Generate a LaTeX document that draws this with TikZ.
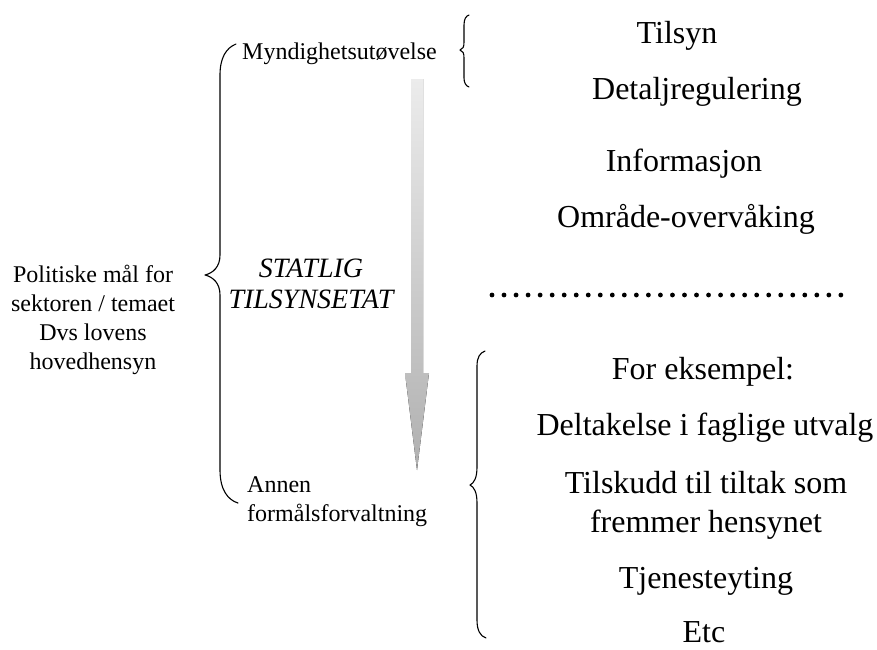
\documentclass[tikz,border=0pt]{standalone}
\usepackage{fontspec}
\setmainfont{Liberation Serif}
\begin{document}
\begin{tikzpicture}[x=1pt,y=-1pt,
  txtS/.style={font=\fontsize{24}{28.8}\selectfont, inner sep=0pt},
  txtL/.style={font=\fontsize{32}{38.8}\selectfont, inner sep=0pt},
  txtI/.style={font=\fontsize{28}{31}\selectfont\itshape, inner sep=0pt},
  bracestroke/.style={line width=1.1pt, line cap=round, line join=round}]
\useasboundingbox (0,0) rectangle (877,649);

% big left brace
\draw[bracestroke] (236,44) .. controls (226,48) and (220,58) .. (220,75)
  -- (220,255) .. controls (220,267) and (213,273) .. (205,275)
  .. controls (213,277) and (220,283) .. (220,295)
  -- (220,470) .. controls (220,490) and (228,500) .. (238,503);

% small top brace
\draw[bracestroke] (469,15) .. controls (466,16) and (464,19) .. (464,25)
  -- (464,42) .. controls (464,47) and (463,49) .. (460,50)
  .. controls (463,51) and (464,53) .. (464,58)
  -- (464,78) .. controls (464,83) and (466,86) .. (469,87);

% lower right brace
\draw[bracestroke] (485,351) .. controls (480,353) and (477,357) .. (477,366)
  -- (477,467) .. controls (477,478) and (474,483) .. (470,485)
  .. controls (474,487) and (477,492) .. (477,503)
  -- (477,620) .. controls (477,630) and (480,636) .. (486,638);

% shaded arrow
\fill[top color=gray!15, bottom color=gray!62]
  (411,79) -- (423,79) -- (423,373) -- (429,373) -- (417,470)
  -- (405,373) -- (411,373) -- cycle;

% left texts
\node[txtS, align=center] (goal) at (93,320)
  {Politiske mål for\\sektoren / temaet\\Dvs lovens\\hovedhensyn};
\node[txtS, anchor=base west] (myn) at (242,59) {Myndighetsutøvelse};
\node[txtS, anchor=west, align=left] (annen) at (247,502) {Annen\\formålsforvaltning};
\node[txtI, align=center] (etat) at (311,284) {STATLIG\\TILSYNSETAT};

% right texts
\node[txtL, anchor=base] (tilsyn) at (677,43) {Tilsyn};
\node[txtL, anchor=base] (detalj) at (697,99) {Detaljregulering};
\node[txtL, anchor=base] (info) at (684,171) {Informasjon};
\node[txtL, anchor=base] (omr) at (686,227) {Område-overvåking};

\foreach \i in {0,...,29} \fill (492+12.03*\i,295) circle (2.4pt);

\node[txtL, anchor=base] (eks) at (703,379) {For eksempel:};
\node[txtL, anchor=base] (delt) at (705,435) {Deltakelse i faglige utvalg};
\node[txtL, align=center] (tilsk) at (706,505) {Tilskudd til tiltak som\\fremmer hensynet};
\node[txtL, anchor=base] (tjen) at (706,588) {Tjenesteyting};
\node[txtL, anchor=base, text depth=0pt] (etc) at (704,642) {Etc};
\end{tikzpicture}
\end{document}
